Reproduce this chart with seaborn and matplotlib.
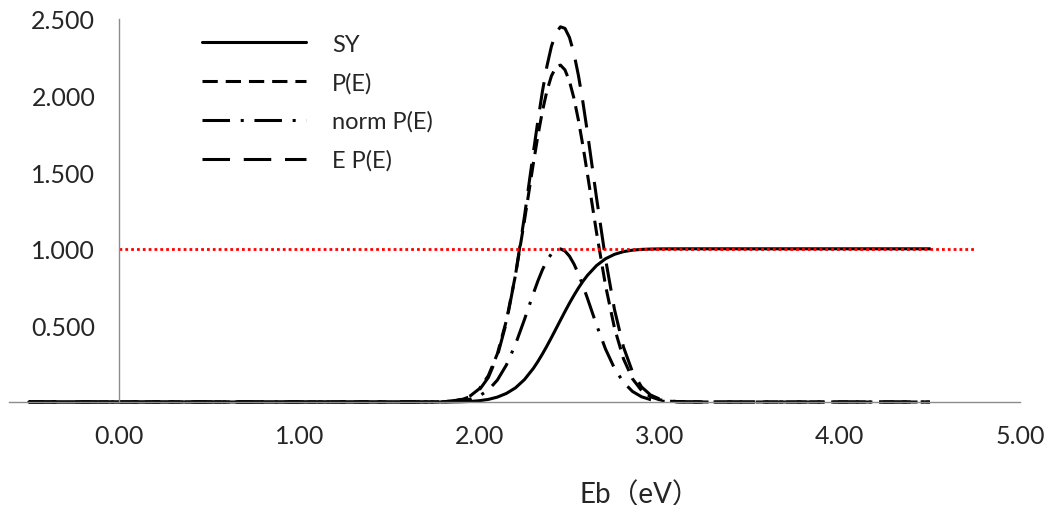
import matplotlib
matplotlib.use("Agg")
import matplotlib.pyplot as plt
import seaborn as sns
import pandas as pd

# ---------------- data ----------------
energy = [-0.5, 0.0, 0.5, 1.0, 1.5, 1.6,
          1.70, 1.75, 1.80, 1.85, 1.90, 1.95, 2.00, 2.05, 2.10, 2.15,
          2.20, 2.25, 2.30, 2.325, 2.35, 2.375, 2.40, 2.425, 2.45, 2.475,
          2.50, 2.525, 2.55, 2.575, 2.60, 2.65,
          2.70, 2.75, 2.80, 2.85, 2.90, 2.95, 3.00, 3.05, 3.10, 3.15,
          3.20, 3.3, 3.5, 4.0, 4.5]

sy = [0, 0, 0, 0, 0, 0,
      0.0000, 0.0001, 0.0002, 0.0006, 0.0016, 0.0038, 0.0085, 0.0170, 0.0320, 0.0560,
      0.0920, 0.1460, 0.2200, 0.2648, 0.3135, 0.3658, 0.4207, 0.4773, 0.5340, 0.5904,
      0.6450, 0.6964, 0.7444, 0.7881, 0.8270, 0.8904,
      0.9350, 0.9640, 0.9815, 0.9911, 0.9961, 0.9984, 0.9994, 0.9998, 0.9999, 1.0,
      1.0, 1.0, 1.0, 1.0, 1.0]

p_e = [0, 0, 0, 0, 0, 0,
       0.0003, 0.0008, 0.0025, 0.0068, 0.0172, 0.0403, 0.0867, 0.1723, 0.3150, 0.5313,
       0.8257, 1.1825, 1.5607, 1.7391, 1.8986, 2.0308, 2.1285, 2.1857, 2.1991, 2.1679,
       2.0940, 1.9818, 1.8377, 1.6696, 1.4863, 1.1077,
       0.7610, 0.4818, 0.2812, 0.1511, 0.0748, 0.0341, 0.0144, 0.0056, 0.0020, 0.0007,
       0.0002, 0, 0, 0, 0]

norm_p_e = [0, 0, 0, 0, 0, 0,
            0.0001, 0.0004, 0.0011, 0.0031, 0.0078, 0.0183, 0.0394, 0.0783, 0.1432, 0.2415,
            0.3753, 0.5375, 0.7094, 0.7905, 0.8630, 0.9231, 0.9675, 0.9935, 0.9996, 0.9854,
            0.9518, 0.9008, 0.8353, 0.7589, 0.6756, 0.5035,
            0.3459, 0.2190, 0.1278, 0.0687, 0.0340, 0.0155, 0.0065, 0.0025, 0.0009, 0.0003,
            0.0001, 0, 0, 0, 0]

e_p_e = [0, 0, 0, 0, 0, 0,
         0.0002, 0.0007, 0.0020, 0.0057, 0.0149, 0.0357, 0.0788, 0.1605, 0.3007, 0.5192,
         0.8257, 1.2094, 1.6316, 1.8379, 2.0281, 2.1924, 2.3220, 2.4092, 2.4490, 2.4389,
         2.3795, 2.2745, 2.1300, 1.9542, 1.7566, 1.3343,
         0.9339, 0.6023, 0.3578, 0.1958, 0.0986, 0.0457, 0.0196, 0.0077, 0.0028, 0.0009,
         0.0003, 0, 0, 0, 0]

series_names = ["SY", "P(E)", "norm P(E)", "E P(E)"]
ref_x = [0.0, 4.75]
ref_y = [1.0, 1.0]

x_ticks = [0, 1, 2, 3, 4, 5]
y_ticks = [0.0, 0.5, 1.0, 1.5, 2.0, 2.5]
x_label = "Eb（eV）"

# ---------------- build long table ----------------
frames = []
for name, vals in zip(series_names, [sy, p_e, norm_p_e, e_p_e]):
    frames.append(pd.DataFrame({"E": energy, "val": vals, "series": name}))
df = pd.concat(frames, ignore_index=True)
ref_df = pd.DataFrame({"E": ref_x, "val": ref_y})

# ---------------- style ----------------
sns.set_theme(style="white")
plt.rcParams["font.family"] = ["Lato", "Noto Sans CJK SC", "DejaVu Sans"]

fig = plt.figure(figsize=(10.48, 5.06), dpi=100)
ax = fig.add_axes([9 / 1048, 103 / 506, 1011 / 1048, 383 / 506])

dash_map = {
    "SY": "",
    "P(E)": (5, 2.6),
    "norm P(E)": (9, 3.5, 1, 3.5),
    "E P(E)": (9, 4.5),
}
sns.lineplot(data=df, x="E", y="val", hue="series", style="series",
             hue_order=series_names, style_order=series_names,
             palette=["black"] * 4, dashes=dash_map, linewidth=2.2,
             sort=False, estimator=None, ax=ax, clip_on=False)

sns.lineplot(data=ref_df, x="E", y="val", color="#ff0000", linewidth=2.0,
             linestyle=(0, (1, 1.1)), ax=ax, legend=False)

ax.set_xlim(-0.61, 5.0)
ax.set_ylim(0, 2.5)

for s in ["top", "right"]:
    ax.spines[s].set_visible(False)
ax.spines["left"].set_position(("data", 0))
for s in ["left", "bottom"]:
    ax.spines[s].set_color("#8c8c8c")
    ax.spines[s].set_linewidth(1.0)

ax.set_xticks(x_ticks)
ax.set_xticklabels([f"{v:.2f}" for v in x_ticks])
ax.set_yticks(y_ticks)
ax.set_yticklabels(["" if v == 0 else f"{v:.3f}" for v in y_ticks])
ax.tick_params(axis="both", which="major", direction="out", length=7,
               width=1, color="#8c8c8c", labelsize=18, labelcolor="#262626")
ax.tick_params(axis="x", pad=9)
ax.tick_params(axis="y", pad=10)
ax.grid(False)

ax.set_ylabel("")
ax.set_xlabel(x_label, fontsize=20, color="#262626")
ax.xaxis.set_label_coords(0.624, -0.205)

handles, labels = ax.get_legend_handles_labels()
hl = [(h, l) for h, l in zip(handles, labels) if l in series_names]
leg = ax.legend([h for h, _ in hl], [l for _, l in hl], loc="upper left",
                bbox_to_anchor=(0.191, 0.962), frameon=False, fontsize=17,
                handlelength=4.4, handletextpad=1.1, labelspacing=0.73,
                borderpad=0, borderaxespad=0)
for t in leg.get_texts():
    t.set_color("#262626")
for line in leg.get_lines():
    line.set_linewidth(2.2)

fig.savefig("out.png", dpi=100)
